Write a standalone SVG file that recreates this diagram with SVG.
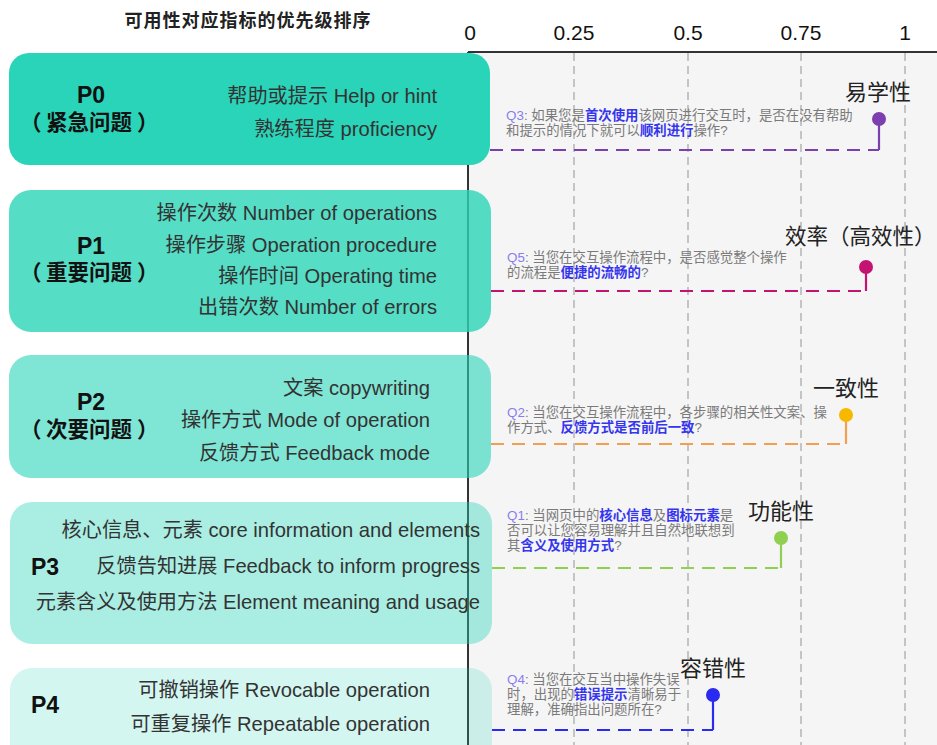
<svg xmlns="http://www.w3.org/2000/svg" width="937" height="745" viewBox="0 0 937 745">
  <style>
    .cjk { font-family: "Liberation Sans", "Noto Sans CJK SC", sans-serif; }
    .title { font-size: 18px; font-weight: bold; fill: #222; }
    .tick { font-size: 21px; fill: #111; text-anchor: middle; }
    .box { fill: #2ad4b8; }
    .pri { font-size: 23px; font-weight: bold; fill: #111; text-anchor: middle; }
    .pri-sub { font-size: 21.5px; font-weight: bold; fill: #111; text-anchor: start; }
    .item { font-size: 20.2px; fill: #333; text-anchor: end; }
    .grid { stroke: #aaaaaa; stroke-width: 1.3; stroke-dasharray: 8 5; }
    .axis { stroke: #333; stroke-width: 2; fill: none; }
    .q { font-size: 13.4px; fill: #7a7a7a; }
    .qid { fill: #8a7cf0; }
    .hl { fill: #3535ee; font-weight: bold; }
    .lead { fill: none; stroke-width: 2.2; stroke-dasharray: 13 8; }
    .stem { fill: none; stroke-width: 2.2; }
    .metric { font-size: 22px; fill: #222; text-anchor: middle; }
    .metric-left { font-size: 21.5px; fill: #222; text-anchor: start; }
  </style>

  <!-- chart background -->
  <rect x="468" y="52" width="469" height="693" fill="#f5f5f5"/>

  <!-- grid lines -->
  <g id="grid">
    <line class="grid" x1="574" y1="53" x2="574" y2="745"/>
    <line class="grid" x1="688" y1="53" x2="688" y2="745"/>
    <line class="grid" x1="801" y1="53" x2="801" y2="745"/>
    <line class="grid" x1="905" y1="53" x2="905" y2="745"/>
  </g>

  <!-- axes -->
  <g id="axes">
    <line class="axis" x1="468" y1="52" x2="937" y2="52"/>
    <line class="axis" x1="468" y1="52" x2="468" y2="745"/>
    <text class="cjk tick" x="470" y="40">0</text>
    <text class="cjk tick" x="574" y="40">0.25</text>
    <text class="cjk tick" x="688" y="40">0.5</text>
    <text class="cjk tick" x="801" y="40">0.75</text>
    <text class="cjk tick" x="905" y="40">1</text>
  </g>

  <text class="cjk title" x="248" y="27" text-anchor="middle" letter-spacing="1">可用性对应指标的优先级排序</text>

  <!-- priority groups -->
  <g id="p0">
    <rect class="box" x="9" y="53" width="481" height="112" rx="20"/>
    <text class="cjk pri" x="91" y="103">P0</text>
    <text class="cjk pri-sub" y="130"><tspan x="20">（</tspan><tspan x="46">紧急问题</tspan><tspan x="137">）</tspan></text>
    <text class="cjk item" x="437" y="103">帮助或提示 Help or hint</text>
    <text class="cjk item" x="437" y="136">熟练程度 proficiency</text>
  </g>

  <g id="p1">
    <rect class="box" x="9" y="190" width="482" height="142" rx="22" fill-opacity="0.8"/>
    <text class="cjk pri" x="91" y="254">P1</text>
    <text class="cjk pri-sub" y="280"><tspan x="20">（</tspan><tspan x="46">重要问题</tspan><tspan x="137">）</tspan></text>
    <text class="cjk item" x="437" y="220">操作次数 Number of operations</text>
    <text class="cjk item" x="437" y="252">操作步骤 Operation procedure</text>
    <text class="cjk item" x="437" y="283">操作时间 Operating time</text>
    <text class="cjk item" x="437" y="314">出错次数 Number of errors</text>
  </g>

  <g id="p2">
    <rect class="box" x="9" y="355" width="482" height="123" rx="22" fill-opacity="0.6"/>
    <text class="cjk pri" x="91" y="410">P2</text>
    <text class="cjk pri-sub" y="437"><tspan x="20">（</tspan><tspan x="46">次要问题</tspan><tspan x="137">）</tspan></text>
    <text class="cjk item" x="430" y="395">文案 copywriting</text>
    <text class="cjk item" x="430" y="427">操作方式 Mode of operation</text>
    <text class="cjk item" x="430" y="460">反馈方式 Feedback mode</text>
  </g>

  <g id="p3">
    <rect class="box" x="10" y="502" width="482" height="142" rx="22" fill-opacity="0.4"/>
    <text class="cjk pri" x="45" y="575">P3</text>
    <text class="cjk item" x="480" y="537">核心信息、元素 core information and elements</text>
    <text class="cjk item" x="480" y="573">反馈告知进展 Feedback to inform progress</text>
    <text class="cjk item" x="480" y="609">元素含义及使用方法 Element meaning and usage</text>
  </g>

  <g id="p4">
    <rect class="box" x="10" y="668" width="482" height="110" rx="22" fill-opacity="0.2"/>
    <text class="cjk pri" x="45" y="713">P4</text>
    <text class="cjk item" x="430" y="697">可撤销操作 Revocable operation</text>
    <text class="cjk item" x="430" y="731">可重复操作 Repeatable operation</text>
  </g>

  <!-- leader lines from groups to metric pins -->
  <g id="connectors">
    <path class="lead" stroke="#7b3fb0" d="M490 150 H879"/>
    <path class="stem" stroke="#7b3fb0" d="M879 119 V150"/>
    <path class="lead" stroke="#c41472" d="M491 291 H866"/>
    <path class="stem" stroke="#c41472" d="M866 267 V291"/>
    <path class="lead" stroke="#f0a050" d="M491 444 H846"/>
    <path class="stem" stroke="#f0a050" d="M846 415 V444"/>
    <path class="lead" stroke="#90d050" d="M492 568 H781"/>
    <path class="stem" stroke="#90d050" d="M781 538 V568"/>
    <path class="lead" stroke="#2a2af0" d="M492 730 H713"/>
    <path class="stem" stroke="#2a2af0" d="M713 695 V730"/>
  </g>

  <!-- metrics -->
  <g id="m-learnability">
    <circle cx="879" cy="119" r="7" fill="#7b3fb0"/>
    <text class="cjk metric" x="878" y="100">易学性</text>
    <text class="cjk q" x="506" y="120"><tspan class="qid">Q3</tspan>: 如果您是<tspan class="hl">首次使用</tspan>该网页进行交互时，是否在没有帮助</text>
    <text class="cjk q" x="506" y="135">和提示的情况下就可以<tspan class="hl">顺利进行</tspan>操作?</text>
  </g>

  <g id="m-efficiency">
    <circle cx="866" cy="267" r="7" fill="#c41472"/>
    <text class="cjk metric-left" x="785" y="244">效率（高效性）</text>
    <text class="cjk q" x="507" y="262"><tspan class="qid">Q5</tspan>: 当您在交互操作流程中，是否感觉整个操作</text>
    <text class="cjk q" x="507" y="277">的流程是<tspan class="hl">便捷的流畅的</tspan>?</text>
  </g>

  <g id="m-consistency">
    <circle cx="846" cy="415" r="7" fill="#f8b800"/>
    <text class="cjk metric" x="846" y="396">一致性</text>
    <text class="cjk q" x="507" y="417"><tspan class="qid">Q2</tspan>: 当您在交互操作流程中，各步骤的相关性文案、操</text>
    <text class="cjk q" x="507" y="432">作方式、<tspan class="hl">反馈方式是否前后一致</tspan>?</text>
  </g>

  <g id="m-functionality">
    <circle cx="781" cy="538" r="7" fill="#90d050"/>
    <text class="cjk metric" x="781" y="519">功能性</text>
    <text class="cjk q" x="507" y="520"><tspan class="qid">Q1</tspan>: 当网页中的<tspan class="hl">核心信息</tspan>及<tspan class="hl">图标元素</tspan>是</text>
    <text class="cjk q" x="507" y="535">否可以让您容易理解并且自然地联想到</text>
    <text class="cjk q" x="507" y="550">其<tspan class="hl">含义及使用方式</tspan>?</text>
  </g>

  <g id="m-error-tolerance">
    <circle cx="713" cy="695" r="7" fill="#2a2af0"/>
    <text class="cjk metric" x="713" y="676">容错性</text>
    <text class="cjk q" x="507" y="684"><tspan class="qid">Q4</tspan>: 当您在交互当中操作失误</text>
    <text class="cjk q" x="507" y="699">时，出现的<tspan class="hl">错误提示</tspan>清晰易于</text>
    <text class="cjk q" x="507" y="714">理解，准确指出问题所在?</text>
  </g>
</svg>
